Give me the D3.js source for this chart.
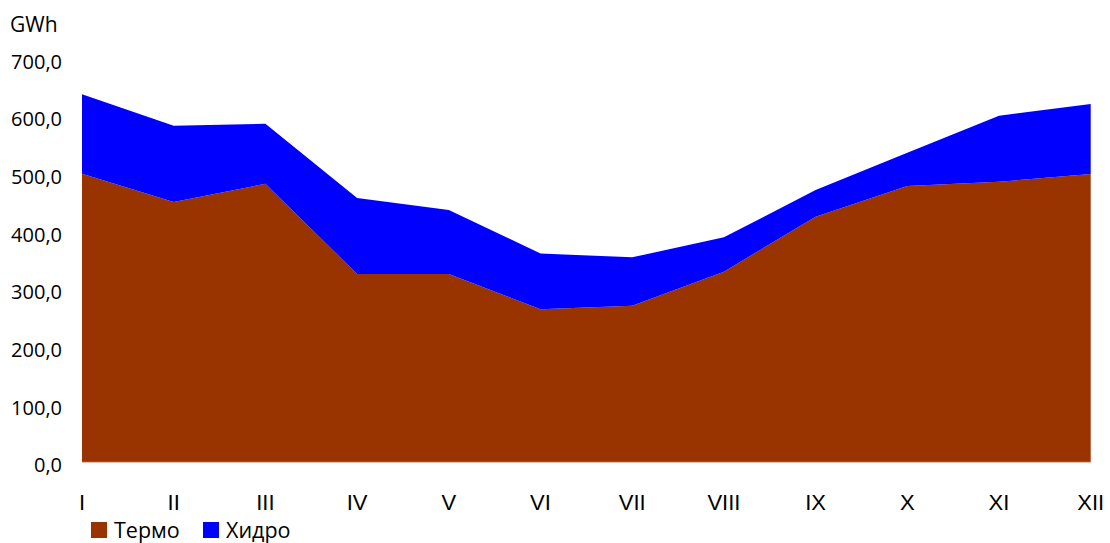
<!DOCTYPE html>
<html>
<head>
<meta charset="utf-8">
<script src="https://cdn.jsdelivr.net/npm/d3@7"></script>
<style>
  body { margin: 0; background: #fff; }
  svg { display: block; }
</style>
</head>
<body>
<svg id="chart" width="1110" height="543"></svg>
<script>
// Data
const months = ["I", "II", "III", "IV", "V", "VI", "VII", "VIII", "IX", "X", "XI", "XII"];
const termo = [500.3, 451.2, 482.7, 326.4, 326.4, 265.2, 271.4, 330.4, 425.7, 479.0, 486.4, 499.7];
const hidro = [137.6, 132.3, 104.0, 131.7, 110.9, 96.7, 83.9, 59.6, 46.3, 57.7, 114.4, 121.3];
const yTicks = [0, 100, 200, 300, 400, 500, 600, 700];
const seriesNames = ["Термо", "Хидро"];
const seriesColors = ["#993300", "#0000ff"];

const svg = d3.select("#chart");

// Scales
const x = d3.scalePoint()
    .domain(months)
    .range([82, 1090.7]);

const y = d3.scaleLinear()
    .domain([0, 700])
    .range([462.3, 58.5]);

// Stack the two series
const rows = months.map((m, i) => ({ month: m, termo: termo[i], hidro: hidro[i] }));
const stack = d3.stack().keys(["termo", "hidro"]);
const layers = stack(rows);

const area = d3.area()
    .x(d => x(d.data.month))
    .y0(d => y(d[0]))
    .y1(d => y(d[1]));

svg.append("g")
  .selectAll("path")
  .data(layers)
  .join("path")
    .attr("fill", (d, i) => seriesColors[i])
    .attr("d", area);

// Baseline
svg.append("line")
    .attr("x1", x.range()[0])
    .attr("x2", x.range()[1])
    .attr("y1", y(0))
    .attr("y2", y(0))
    .attr("stroke", "#e0b8a8")
    .attr("stroke-width", 1);

// Y axis labels
svg.append("g")
  .selectAll("text")
  .data(yTicks)
  .join("text")
    .attr("x", 62)
    .attr("y", d => y(d) + 10)
    .attr("text-anchor", "end")
    .attr("font-family", "'Open Sans', sans-serif")
    .attr("font-size", 20)
    .attr("fill", "#000")
    .text(d => d3.format(".1f")(d).replace(".", ","));

// Unit label
svg.append("text")
    .attr("x", 10)
    .attr("y", 32)
    .attr("font-family", "'Open Sans', sans-serif")
    .attr("font-size", 21)
    .attr("fill", "#000")
    .text("GWh");

// X axis labels
svg.append("g")
  .selectAll("text")
  .data(months)
  .join("text")
    .attr("x", d => x(d))
    .attr("y", 510)
    .attr("text-anchor", "middle")
    .attr("font-family", "'Liberation Sans Narrow', 'Arial Narrow', sans-serif")
    .attr("font-size", 22)
    .attr("fill", "#000")
    .text(d => d);

// Legend
const legend = svg.append("g")
  .selectAll("g")
  .data(seriesNames)
  .join("g")
    .attr("transform", (d, i) => `translate(${91 + i * 112},522)`);

legend.append("rect")
    .attr("width", 16)
    .attr("height", 16)
    .attr("fill", (d, i) => seriesColors[i]);

legend.append("text")
    .attr("x", 23)
    .attr("y", 16)
    .attr("font-family", "'Open Sans', sans-serif")
    .attr("font-size", 21.5)
    .attr("fill", "#000")
    .text(d => d);
</script>
</body>
</html>
